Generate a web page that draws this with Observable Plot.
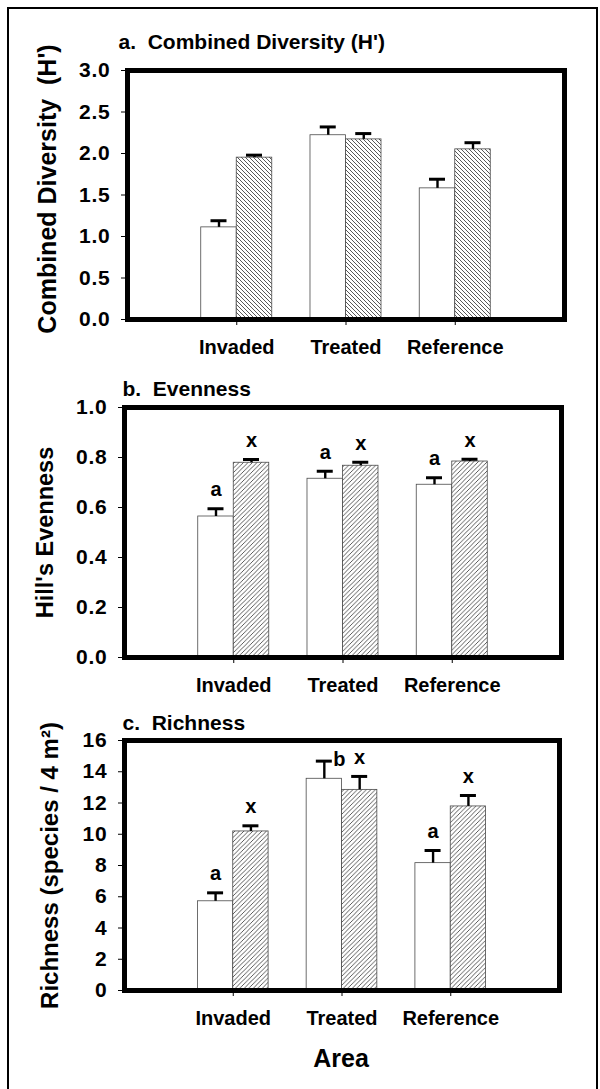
<!DOCTYPE html>
<html>
<head>
<meta charset="utf-8">
<script src="https://cdn.jsdelivr.net/npm/d3@7"></script>
<script src="https://cdn.jsdelivr.net/npm/@observablehq/plot@0.6"></script>
<style>
  html, body { margin: 0; padding: 0; background: #fff; overflow: hidden; }
  #page { position: relative; width: 600px; height: 1089px; overflow: hidden; background: #fff; }
  #border { position: absolute; left: 7px; top: 7px; width: 587px; height: 1200px; border: 2.5px solid #000; }
  .panel { position: absolute; left: 0; }
  .panel svg { overflow: visible; }
  .panel svg g[aria-label="y-axis tick label"] text { letter-spacing: 0.8px; }
</style>
</head>
<body>
<div id="page">
  <div id="border"></div>
  <svg width="0" height="0" style="position:absolute">
    <defs>
      <pattern id="hatchBack" patternUnits="userSpaceOnUse" width="4" height="4">
        <rect width="4" height="4" fill="#fff"></rect>
        <path d="M-1,-1L5,5M-1,3L1,5M3,-1L5,1" stroke="#222" stroke-width="0.75" fill="none"></path>
      </pattern>
      <pattern id="hatchFwd" patternUnits="userSpaceOnUse" width="4.5" height="4.5">
        <rect width="4.5" height="4.5" fill="#fff"></rect>
        <path d="M-1,5.5L5.5,-1M-1,1L1,-1M3.5,5.5L5.5,3.5" stroke="#222" stroke-width="0.75" fill="none"></path>
      </pattern>
    </defs>
  </svg>
</div>
<script>
// ---------- data ----------
const categories = ["Invaded", "Treated", "Reference"];
const seriesNames = ["Open bars", "Hatched bars"];

const diversityOpen = [1.11, 2.22, 1.58];
const diversityOpenErr = [0.08, 0.10, 0.11];
const diversityHatched = [1.95, 2.17, 2.05];
const diversityHatchedErr = [0.03, 0.07, 0.08];

const evennessOpen = [0.564, 0.715, 0.691];
const evennessOpenErr = [0.031, 0.030, 0.028];
const evennessHatched = [0.779, 0.767, 0.784];
const evennessHatchedErr = [0.013, 0.014, 0.009];
const evennessOpenLetters = ["a", "a", "a"];
const evennessHatchedLetters = ["x", "x", "x"];

const richnessOpen = [5.71, 13.55, 8.15];
const richnessOpenErr = [0.54, 1.13, 0.81];
const richnessHatched = [10.18, 12.84, 11.78];
const richnessHatchedErr = [0.36, 0.86, 0.70];
const richnessOpenLetters = ["a", "b", "a"];
const richnessHatchedLetters = ["x", "x", "x"];

const diversityTicks = [0, 0.5, 1, 1.5, 2, 2.5, 3];
const evennessTicks = [0, 0.2, 0.4, 0.6, 0.8, 1];
const richnessTicks = [0, 2, 4, 6, 8, 10, 12, 14, 16];

// ---------- helpers ----------
const FONT = "Liberation Sans, Arial, sans-serif";
const PI = 0.35, PO = 0.675;

function makeRows(series, values, errors, letters) {
  return categories.map((cat, i) => ({
    cat, series, value: values[i], err: errors[i], top: values[i] + errors[i],
    letter: letters ? letters[i] : null
  }));
}

function panel(cfg) {
  const mT = 70;
  const {open, hatched, yDomain, yTicks, tickFormat, mL, mR, height, mB, top} = cfg;
  const W = 600 - mL - mR;
  const step = W / (categories.length - PI + 2 * PO);
  const bw = step * (1 - PI);
  const half = bw / 2;
  const cap = 8;
  const txt = {fontFamily: FONT, fontWeight: "bold", fill: "#000"};
  const marks = [
    Plot.barY(open, {x: "cat", y: "value", fill: "#fff", stroke: "#4a4a4a", strokeWidth: 0.8, insetRight: half}),
    Plot.barY(hatched, {x: "cat", y: "value", fill: `url(#${cfg.hatch})`, stroke: "#4a4a4a", strokeWidth: 0.8, insetLeft: half}),
    Plot.ruleX(open, {x: "cat", y1: "value", y2: "top", dx: -half / 2, stroke: "#000", strokeWidth: 2.4}),
    Plot.ruleX(hatched, {x: "cat", y1: "value", y2: "top", dx: half / 2, stroke: "#000", strokeWidth: 2.4}),
    Plot.tickY(open, {x: "cat", y: "top", insetLeft: half / 2 - cap, insetRight: bw - half / 2 - cap, stroke: "#000", strokeWidth: 3}),
    Plot.tickY(hatched, {x: "cat", y: "top", insetLeft: half * 1.5 - cap, insetRight: half / 2 - cap, stroke: "#000", strokeWidth: 3})
  ];
  if (open[0].letter) {
    const beside = d => d.cat === cfg.besideCat;
    marks.push(Plot.text(open.filter(d => !beside(d)), {x: "cat", y: "top", text: "letter", dx: -half / 2, dy: -19, fontSize: 20, ...txt}));
    marks.push(Plot.text(open.filter(beside), {x: "cat", y: "top", text: "letter", dx: -half / 2 + 15, dy: -2, fontSize: 20, ...txt}));
  }
  if (hatched[0].letter) {
    marks.push(Plot.text(hatched, {x: "cat", y: "top", text: "letter", dx: half / 2, dy: -19, fontSize: 20, ...txt}));
  }
  marks.push(
    Plot.frame({stroke: "#000", strokeWidth: 5}),
    Plot.axisY({ticks: yTicks, tickFormat, tickSize: 6, tickPadding: 11, fontSize: 21, fontWeight: "bold", label: null}),
    Plot.axisX({tickSize: 6, tickPadding: 14, fontSize: 20, fontWeight: "bold", label: null}),
    Plot.text([cfg.title], {text: d => d, frameAnchor: "top-left", textAnchor: "start", lineAnchor: "bottom",
      dx: cfg.titleX - mL, dy: cfg.titleBaseline - mT, fontSize: 21, ...txt}),
    Plot.text([cfg.yLabel], {text: d => d, frameAnchor: "left", rotate: -90, textAnchor: "middle", lineAnchor: "bottom",
      dx: cfg.yLabelX - mL, dy: cfg.yLabelDy || 0, fontSize: cfg.yLabelSize || 25, ...txt})
  );
  if (cfg.xLabel) {
    marks.push(Plot.text([cfg.xLabel], {text: d => d, frameAnchor: "bottom", lineAnchor: "bottom",
      dx: -1, dy: cfg.xLabelBaseline - (top + height - mB), fontSize: 25, ...txt}));
  }
  const chart = Plot.plot({
    width: 600, height,
    marginTop: mT, marginBottom: mB, marginLeft: mL, marginRight: mR,
    x: {domain: categories, paddingInner: PI, paddingOuter: PO, round: false},
    y: {domain: yDomain},
    style: {fontFamily: FONT, fontWeight: "bold", color: "#000", background: "transparent", overflow: "visible"},
    marks
  });
  const wrap = document.createElement("div");
  wrap.className = "panel";
  wrap.style.top = top + "px";
  wrap.appendChild(chart);
  document.getElementById("page").appendChild(wrap);
}

panel({
  open: makeRows(seriesNames[0], diversityOpen, diversityOpenErr),
  hatched: makeRows(seriesNames[1], diversityHatched, diversityHatchedErr),
  yDomain: [0, 3], yTicks: diversityTicks, tickFormat: d3.format(".1f"),
  mL: 127, mR: 36, height: 370, mB: 51, top: 0, hatch: "hatchBack",
  title: "a.\u00a0 Combined Diversity (H')", titleX: 118, titleBaseline: 48,
  yLabel: "Combined Diversity\u00a0 (H')", yLabelX: 55, yLabelDy: -6
});

panel({
  open: makeRows(seriesNames[0], evennessOpen, evennessOpenErr, evennessOpenLetters),
  hatched: makeRows(seriesNames[1], evennessHatched, evennessHatchedErr, evennessHatchedLetters),
  yDomain: [0, 1], yTicks: evennessTicks, tickFormat: d3.format(".1f"),
  mL: 124, mR: 39, height: 370, mB: 50, top: 337, hatch: "hatchFwd",
  title: "b.\u00a0 Evenness", titleX: 122, titleBaseline: 395 - 337,
  yLabel: "Hill's Evenness", yLabelX: 52, yLabelSize: 23.5
});

panel({
  open: makeRows(seriesNames[0], richnessOpen, richnessOpenErr, richnessOpenLetters),
  hatched: makeRows(seriesNames[1], richnessHatched, richnessHatchedErr, richnessHatchedLetters),
  yDomain: [0, 16], yTicks: richnessTicks, tickFormat: d3.format("d"),
  mL: 124, mR: 41, height: 419, mB: 99, top: 670, hatch: "hatchFwd", besideCat: "Treated",
  title: "c.\u00a0 Richness", titleX: 122, titleBaseline: 729 - 670,
  yLabel: "Richness (species / 4 m\u00b2)", yLabelX: 57, yLabelSize: 24,
  xLabel: "Area", xLabelBaseline: 1066
});
</script>
</body>
</html>
